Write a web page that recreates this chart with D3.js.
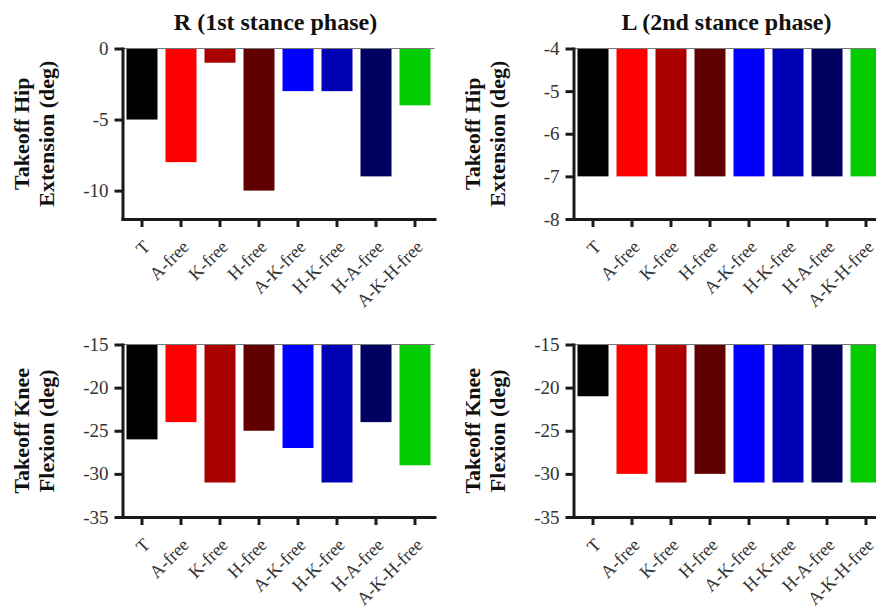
<!DOCTYPE html>
<html>
<head>
<meta charset="utf-8">
<script src="https://cdn.jsdelivr.net/npm/d3@7"></script>
<style>
  html, body { margin: 0; padding: 0; background: #fff; }
  svg { display: block; }
  svg text { font-family: 'Liberation Serif', 'Times New Roman', serif; }
</style>
</head>
<body>
<svg id="chart" width="876" height="610"></svg>
<script>
const categories = ["T", "A-free", "K-free", "H-free", "A-K-free", "H-K-free", "H-A-free", "A-K-H-free"];
const barColors = ["#000000", "#ff0000", "#aa0000", "#600000", "#0000ff", "#0000b4", "#000060", "#00cc00"];

const hipR = [-5, -8, -1, -10, -3, -3, -9, -4];
const hipL = [-7, -7, -7, -7, -7, -7, -7, -7];
const kneeR = [-26, -24, -31, -25, -27, -31, -24, -29];
const kneeL = [-21, -30, -31, -30, -31, -31, -31, -31];

const hipRDomain = [-12, 0];
const hipLDomain = [-8, -4];
const kneeDomain = [-35, -15];
const hipRTicks = [0, -5, -10];
const hipLTicks = [-4, -5, -6, -7, -8];
const kneeTicks = [-15, -20, -25, -30, -35];

const titles = ["R (1st stance phase)", "L (2nd stance phase)"];
const hipLabel = ["Takeoff Hip", "Extension (deg)"];
const kneeLabel = ["Takeoff Knee", "Flexion (deg)"];

const FONT = "'Liberation Serif', 'Times New Roman', serif";
const svg = d3.select("#chart");

const colX = [122.5, 573.5];
const rowY = [[48.5, 219], [344.5, 517]];
const step = 39;

const panels = [
  { col: 0, row: 0, values: hipR, domain: hipRDomain, ticks: hipRTicks, label: hipLabel },
  { col: 1, row: 0, values: hipL, domain: hipLDomain, ticks: hipLTicks, label: hipLabel },
  { col: 0, row: 1, values: kneeR, domain: kneeDomain, ticks: kneeTicks, label: kneeLabel },
  { col: 1, row: 1, values: kneeL, domain: kneeDomain, ticks: kneeTicks, label: kneeLabel }
];

// titles
titles.forEach((t, i) => {
  svg.append("text")
    .attr("x", colX[i] + 153)
    .attr("y", 30)
    .attr("text-anchor", "middle")
    .attr("font-family", FONT)
    .attr("font-size", 24)
    .attr("font-weight", "bold")
    .attr("fill", "#111")
    .text(t);
});

panels.forEach(p => {
  const x0 = colX[p.col];
  const [yTop, yBot] = rowY[p.row];
  const x = d3.scaleBand()
    .domain(categories)
    .range([x0, x0 + step * categories.length])
    .paddingInner(8 / 39)
    .paddingOuter(4 / 39);
  const y = d3.scaleLinear().domain(p.domain).range([yBot, yTop]);
  const base = p.domain[1];

  const g = svg.append("g");

  // bars
  g.selectAll("rect.bar")
    .data(p.values)
    .join("rect")
    .attr("class", "bar")
    .attr("x", (d, i) => x(categories[i]))
    .attr("width", x.bandwidth())
    .attr("y", y(base))
    .attr("height", d => y(d) - y(base))
    .attr("fill", (d, i) => barColors[i]);

  // baseline gray line at top
  g.append("line")
    .attr("x1", x0).attr("x2", x0 + step * categories.length)
    .attr("y1", y(base)).attr("y2", y(base))
    .attr("stroke", "#777").attr("stroke-width", 1);

  // y axis
  const ya = g.append("g")
    .attr("transform", `translate(${x0},0)`)
    .call(d3.axisLeft(y).tickValues(p.ticks).tickSize(8).tickSizeOuter(0).tickPadding(6).tickFormat(d => String(d)));
  ya.attr("font-family", FONT).attr("font-size", 19);
  ya.select(".domain").attr("stroke", "#1a1a1a").attr("stroke-width", 3).attr("stroke-linecap", "square");
  ya.selectAll(".tick line").attr("stroke", "#1a1a1a").attr("stroke-width", 3);
  ya.selectAll(".tick text").attr("fill", "#333");

  // x axis
  const xa = g.append("g")
    .attr("transform", `translate(0,${yBot})`)
    .call(d3.axisBottom(x).tickSize(8).tickSizeOuter(0));
  xa.attr("font-family", FONT).attr("font-size", 18);
  xa.select(".domain").attr("stroke", "#1a1a1a").attr("stroke-width", 3).attr("stroke-linecap", "square");
  xa.selectAll(".tick line").attr("stroke", "#1a1a1a").attr("stroke-width", 3);
  xa.selectAll(".tick text")
    .attr("y", 0).attr("dy", 0)
    .attr("text-anchor", "end")
    .attr("transform", "translate(9,29) rotate(-45)")
    .attr("fill", "#333");

  // y label
  const cy = (yTop + yBot) / 2;
  const lab = g.append("text")
    .attr("transform", `translate(${x0 - 94},${cy}) rotate(-90)`)
    .attr("text-anchor", "middle")
    .attr("font-family", FONT)
    .attr("font-size", 22)
    .attr("font-weight", "bold")
    .attr("fill", "#111");
  lab.append("tspan").attr("x", 0).attr("y", 0).text(p.label[0]);
  lab.append("tspan").attr("x", 0).attr("y", 25).text(p.label[1]);
});
</script>
</body>
</html>
